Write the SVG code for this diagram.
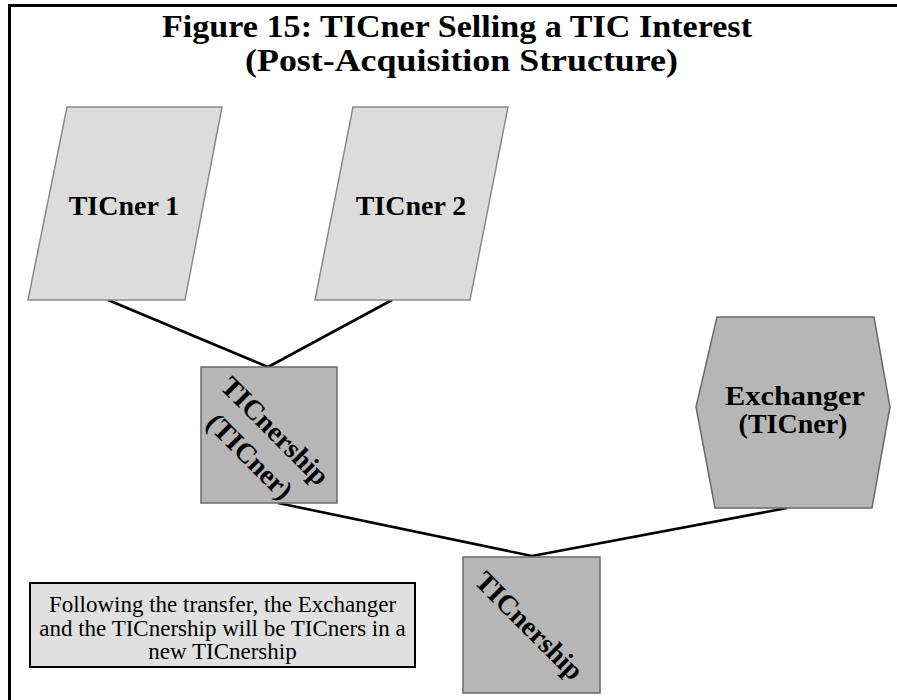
<svg xmlns="http://www.w3.org/2000/svg" width="897" height="700" viewBox="0 0 897 700">
<defs>
<style>
.title{font-family:"Liberation Serif","Times New Roman",serif;font-weight:bold;font-size:32px;fill:#000;text-anchor:middle}
.lbl{font-family:"Liberation Serif","Times New Roman",serif;font-weight:bold;font-size:28px;fill:#000;text-anchor:middle}
.note{font-family:"Liberation Serif","Times New Roman",serif;font-size:23px;fill:#000;text-anchor:middle}
.light{fill:#dcdcdc;stroke:#8a8a8a;stroke-width:1.5}
.dark{fill:#b6b6b6;stroke:#6a6a6a;stroke-width:1.5}
.conn{stroke:#000;stroke-width:2.6;fill:none}
</style>
</defs>
<rect x="0" y="0" width="897" height="700" fill="#fff"/>
<rect id="frame" x="9.5" y="5.5" width="900" height="720" fill="none" stroke="#000" stroke-width="3"/>
<g id="title">
<text class="title" x="457" y="37" textLength="590" lengthAdjust="spacingAndGlyphs">Figure 15: TICner Selling a TIC Interest</text>
<text class="title" x="461.5" y="71" textLength="433" lengthAdjust="spacingAndGlyphs">(Post-Acquisition Structure)</text>
</g>
<g id="connectors">
<line class="conn" x1="108" y1="300" x2="268" y2="367"/>
<line class="conn" x1="392" y1="300" x2="268" y2="367"/>
<line class="conn" x1="278" y1="503" x2="532" y2="556"/>
<line class="conn" x1="787" y1="508" x2="532" y2="556"/>
</g>
<g id="ticner1">
<polygon class="light" points="67,107 222,107 185,300 28,300"/>
<text class="lbl" x="124" y="215">TICner 1</text>
</g>
<g id="ticner2">
<polygon class="light" points="353,107 508,107 470,300 315,300"/>
<text class="lbl" x="411" y="215">TICner 2</text>
</g>
<g id="ticnership-ticner">
<rect class="dark" x="201" y="367" width="136" height="136"/>
<g transform="translate(270,436) rotate(45)">
<text class="lbl" x="0" y="2">TICnership</text>
<text class="lbl" x="0" y="38">(TICner)</text>
</g>
</g>
<g id="exchanger">
<polygon class="dark" points="717,317 874,317 890,407 872,508 715,508 696,407"/>
<text class="lbl" x="795" y="405" textLength="140" lengthAdjust="spacingAndGlyphs">Exchanger</text>
<text class="lbl" x="793" y="433">(TICner)</text>
</g>
<g id="ticnership">
<rect class="dark" x="463" y="557" width="137" height="136"/>
<text class="lbl" transform="translate(529,626) rotate(45)" x="0" y="9">TICnership</text>
</g>
<g id="note">
<rect x="30" y="583" width="385" height="84" fill="#e0e0e0" stroke="#000" stroke-width="2"/>
<text class="note" x="222.5" y="612">Following the transfer, the Exchanger</text>
<text class="note" x="222.5" y="636">and the TICnership will be TICners in a</text>
<text class="note" x="222.5" y="659">new TICnership</text>
</g>
</svg>
